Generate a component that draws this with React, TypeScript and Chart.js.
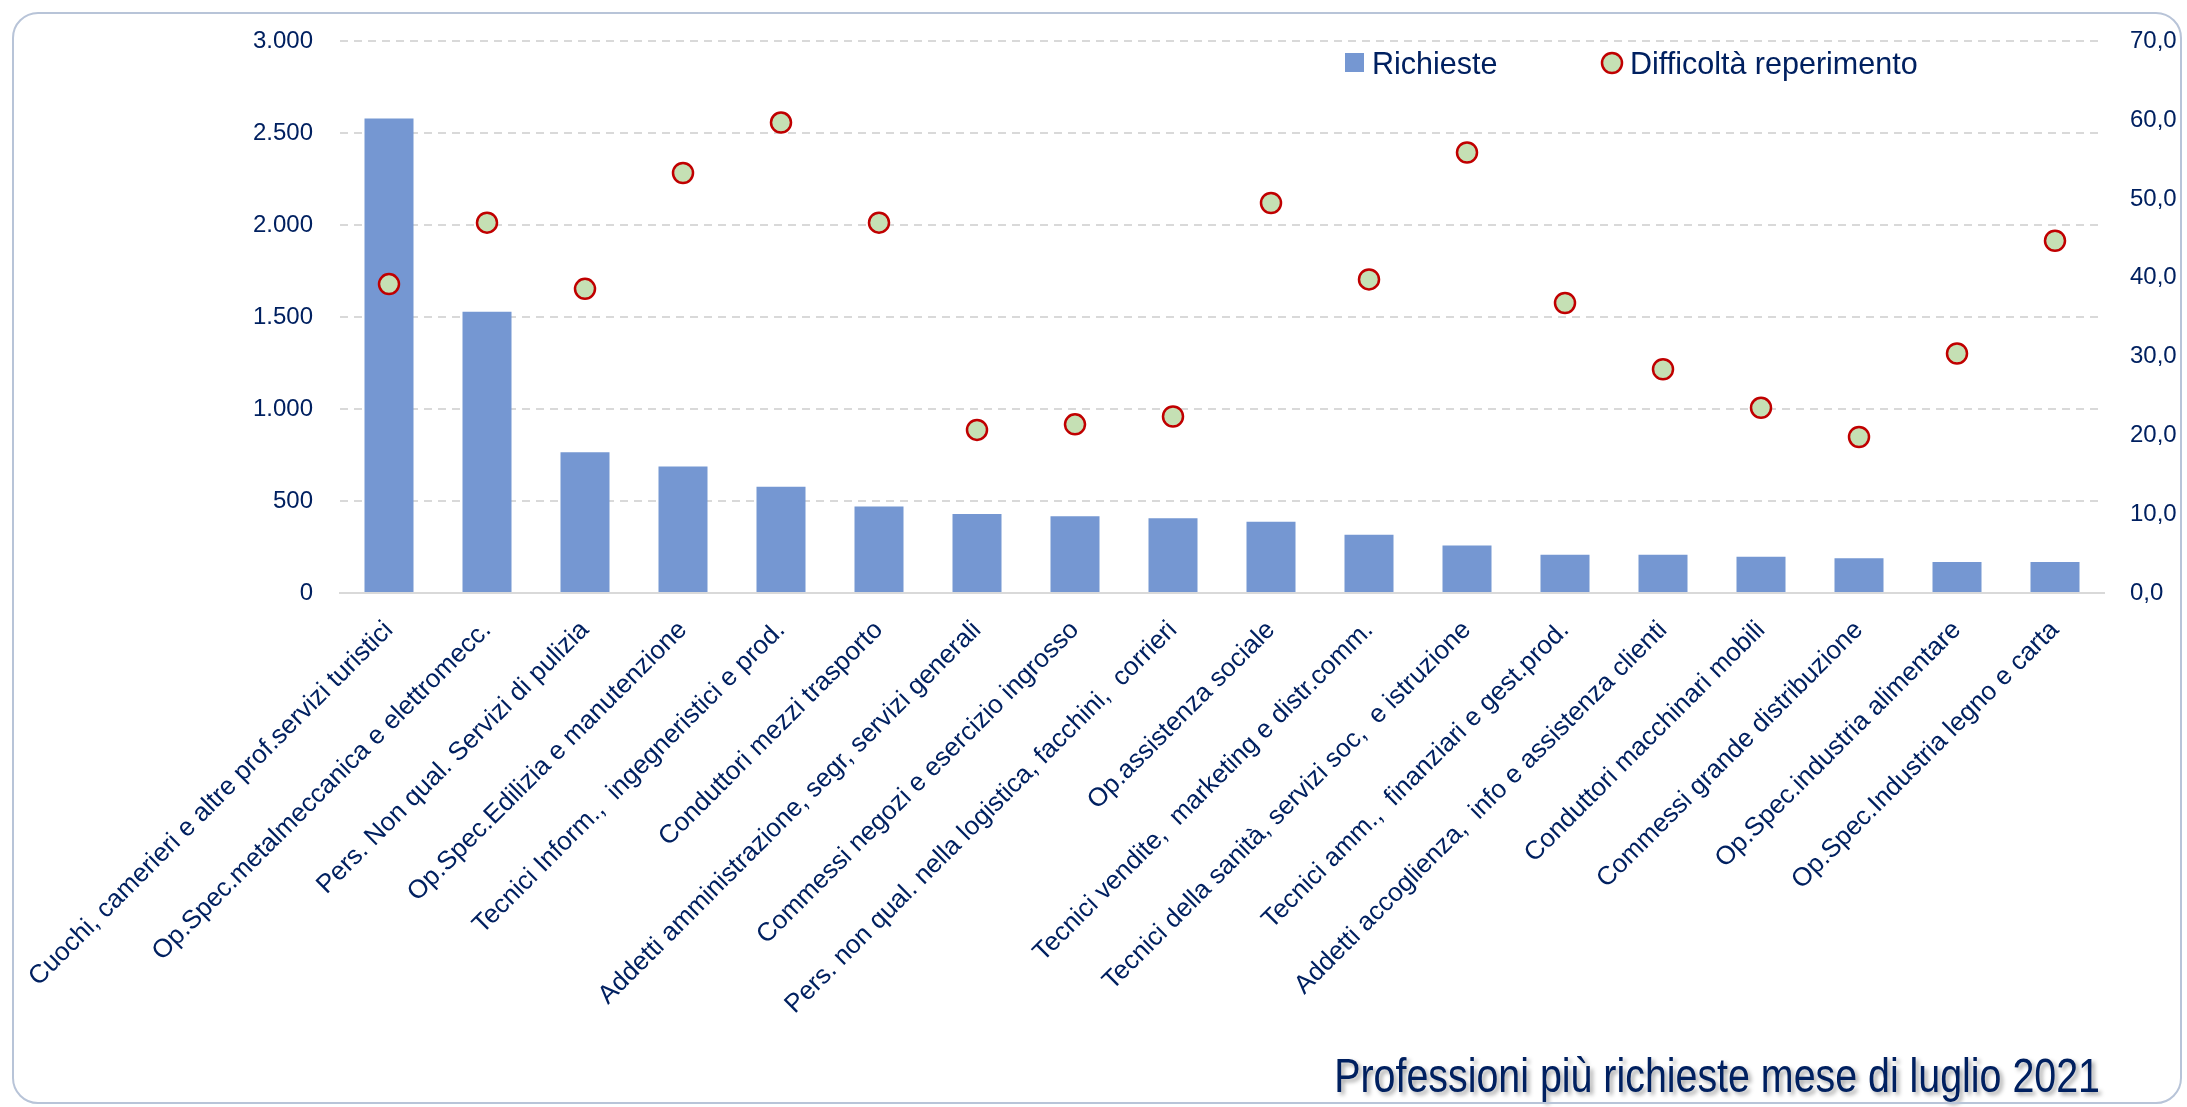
import React, { useEffect, useRef } from 'react';
import { Chart, registerables } from 'chart.js';

Chart.register(...registerables);

const categories = [
  'Cuochi, camerieri e altre prof.servizi turistici',
  'Op.Spec.metalmeccanica e elettromecc.',
  'Pers. Non qual. Servizi di pulizia',
  'Op.Spec.Edilizia e manutenzione',
  'Tecnici Inform.,  ingegneristici e prod.',
  'Conduttori mezzi trasporto',
  'Addetti amministrazione, segr, servizi generali',
  'Commessi negozi e esercizio ingrosso',
  'Pers. non qual. nella logistica, facchini,  corrieri',
  'Op.assistenza sociale',
  'Tecnici vendite,  marketing e distr.comm.',
  'Tecnici della sanità, servizi soc,  e istruzione',
  'Tecnici amm.,  finanziari e gest.prod.',
  'Addetti accoglienza,  info e assistenza clienti',
  'Conduttori macchinari mobili',
  'Commessi grande distribuzione',
  'Op.Spec.industria alimentare',
  'Op.Spec.Industria legno e carta',
];

const richieste = [2580, 1530, 766, 688, 578, 470, 430, 418, 406, 387, 317, 258, 208, 208, 197, 189, 168, 168];

const difficolta = [39.2, 47.0, 38.6, 53.3, 59.7, 47.0, 20.7, 21.4, 22.4, 49.5, 39.8, 55.9, 36.8, 28.4, 23.5, 19.8, 30.4, 44.7];

const leftTickValues = [0, 500, 1000, 1500, 2000, 2500, 3000];
const leftTickLabels = ['0', '500', '1.000', '1.500', '2.000', '2.500', '3.000'];
const rightTickValues = [0, 10, 20, 30, 40, 50, 60, 70];
const rightTickLabels = ['0,0', '10,0', '20,0', '30,0', '40,0', '50,0', '60,0', '70,0'];

const legendLabels = ['Richieste', 'Difficoltà reperimento'];
const titleText = 'Professioni più richieste mese di luglio 2021';

const TEXT = '#002060';
const BAR = '#7597d2';
const DOT_FILL = '#c5e0b4';
const DOT_BORDER = '#c00000';
const GRID = '#d9d9d9';
const REG = "'Liberation Sans', Arial, sans-serif";

const overlayPlugin = {
  id: 'overlay',
  afterDraw(chart: any) {
    const ctx = chart.ctx as CanvasRenderingContext2D;
    ctx.save();
    // legend
    ctx.fillStyle = BAR;
    ctx.fillRect(1345, 53, 19, 19);
    ctx.font = `30.5px ${REG}`;
    ctx.fillStyle = TEXT;
    ctx.textAlign = 'left';
    ctx.textBaseline = 'alphabetic';
    ctx.fillText(legendLabels[0], 1372, 74);
    ctx.beginPath();
    ctx.arc(1612, 63, 10, 0, Math.PI * 2);
    ctx.fillStyle = DOT_FILL;
    ctx.fill();
    ctx.lineWidth = 2.5;
    ctx.strokeStyle = DOT_BORDER;
    ctx.stroke();
    ctx.fillStyle = TEXT;
    ctx.fillText(legendLabels[1], 1630, 74);
    ctx.restore();

    // title (narrow look by horizontal scaling)
    ctx.save();
    const sx = 0.82;
    ctx.translate(2100, 1092);
    ctx.scale(sx, 1);
    ctx.font = `48px ${REG}`;
    ctx.textAlign = 'right';
    ctx.textBaseline = 'alphabetic';
    ctx.shadowColor = 'rgba(0,0,0,0.35)';
    ctx.shadowOffsetX = 3;
    ctx.shadowOffsetY = 3;
    ctx.shadowBlur = 4;
    ctx.fillStyle = TEXT;
    ctx.fillText(titleText, 0, 0);
    ctx.restore();
  },
};

export default function App() {
  const canvasRef = useRef<HTMLCanvasElement | null>(null);

  useEffect(() => {
    document.body.style.margin = '0';
    const canvas = canvasRef.current;
    if (!canvas) return;
    const chart = new Chart(canvas, {
      type: 'bar',
      data: {
        labels: categories,
        datasets: [
          {
            type: 'line',
            label: legendLabels[1],
            data: difficolta,
            yAxisID: 'y1',
            showLine: false,
            pointRadius: 10,
            pointHoverRadius: 10,
            pointBorderWidth: 2.5,
            pointBackgroundColor: DOT_FILL,
            pointBorderColor: DOT_BORDER,
            order: 0,
          } as any,
          {
            type: 'bar',
            label: legendLabels[0],
            data: richieste,
            yAxisID: 'y',
            backgroundColor: BAR,
            borderWidth: 0,
            barPercentage: 0.5,
            categoryPercentage: 1.0,
            order: 1,
          },
        ],
      },
      options: {
        responsive: false,
        animation: false,
        devicePixelRatio: 1,
        layout: { padding: { top: 41, left: 0, right: 0, bottom: 0 } },
        plugins: {
          legend: { display: false },
          tooltip: { enabled: false },
          title: { display: false },
        },
        scales: {
          x: {
            type: 'category',
            grid: { display: false, drawTicks: false },
            border: { display: true, color: GRID, width: 2 },
            ticks: {
              autoSkip: false,
              minRotation: 45,
              maxRotation: 45,
              padding: 22,
              color: TEXT,
              font: { family: REG, size: 26 },
            },
            afterFit: (s: any) => {
              s.height = 514;
              s.paddingLeft = 0;
              s.paddingRight = 0;
            },
          },
          y: {
            position: 'left',
            min: 0,
            max: 3000,
            grid: { color: GRID, lineWidth: 2, drawTicks: false },
            border: { display: false, dash: [8, 6] },
            afterBuildTicks: (s: any) => {
              s.ticks = leftTickValues.map((v) => ({ value: v }));
            },
            ticks: {
              padding: 27,
              color: TEXT,
              font: { family: REG, size: 24 },
              callback: (v: any) => leftTickLabels[leftTickValues.indexOf(Number(v))],
            },
            afterFit: (s: any) => {
              s.width = 340;
            },
          },
          y1: {
            position: 'right',
            min: 0,
            max: 70,
            grid: { display: false, drawTicks: false },
            border: { display: false },
            afterBuildTicks: (s: any) => {
              s.ticks = rightTickValues.map((v) => ({ value: v }));
            },
            ticks: {
              padding: 26,
              color: TEXT,
              font: { family: REG, size: 24 },
              callback: (v: any) => rightTickLabels[rightTickValues.indexOf(Number(v))],
            },
            afterFit: (s: any) => {
              s.width = 83;
            },
          },
        },
      },
      plugins: [overlayPlugin],
    });
    return () => chart.destroy();
  }, []);

  return (
    <div style={{ position: 'relative', width: 2187, height: 1107, overflow: 'hidden', background: '#fff' }}>
      <canvas ref={canvasRef} width={2187} height={1107} style={{ position: 'absolute', left: 0, top: 0, width: 2187, height: 1107 }} />
      <div
        style={{
          position: 'absolute',
          left: 12,
          top: 12,
          width: 2170,
          height: 1092,
          boxSizing: 'border-box',
          border: '2px solid #b8c4d8',
          borderRadius: 26,
          pointerEvents: 'none',
        }}
      />
    </div>
  );
}
